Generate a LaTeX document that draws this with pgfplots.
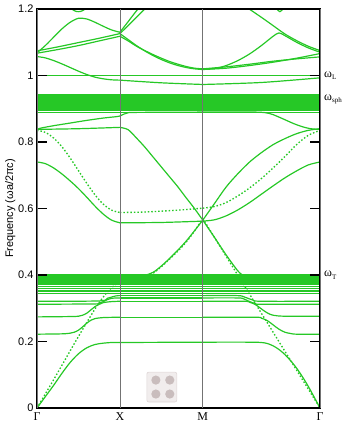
\documentclass[border=0pt]{standalone}
\usepackage{fontspec}
\setmainfont{Liberation Sans}
\newfontfamily\timesfont{Liberation Serif}
\usepackage{pgfplots}
\pgfplotsset{compat=1.18}
\usetikzlibrary{calc}

\definecolor{band}{RGB}{38,200,38}
\definecolor{cellbg}{RGB}{241,237,237}
\definecolor{cellline}{RGB}{222,214,214}
\definecolor{cellrod}{RGB}{201,189,189}
\definecolor{symline}{RGB}{115,115,115}

\pgfplotsset{
  band/.style={color=band, line width=1.2pt, smooth, tension=0.5, mark=none},
  light/.style={band, line width=1.35pt, dash pattern=on 1.5pt off 2pt},
  flat/.style={color=band, line width=1.2pt, mark=none},
}
% one piece of a dispersion branch between two symmetry points
\newcommand{\seg}[2][]{\addplot[band,#1] coordinates {#2};}

\begin{document}
\begin{tikzpicture}
\begin{axis}[
  name=ax, scale only axis, width=283bp, height=399bp,
  xmin=0, xmax=3.41421, ymin=0, ymax=1.2,
  axis on top,
  axis line style={black, line width=1.5pt},
  xtick=\empty,
  extra x ticks={0,1,2,3.41421},
  extra x tick labels={Γ,X,M,Γ},
  extra x tick style={major tick length=0pt, grid=major,
    major grid style={symline, line width=0.6pt},
    xticklabel style={font=\timesfont\fontsize{12}{12}\selectfont, yshift=-1bp}},
  ytick={0,0.2,0.4,0.6,0.8,1,1.2},
  ytick pos=both, yticklabel pos=left,
  tick align=inside, major tick length=10bp,
  tick style={black, line width=1.6pt},
  yticklabel style={font=\fontsize{11}{11}\selectfont},
  /pgf/number format/assume math mode=true,
  ylabel={Frequency (ωa/2πc)},
  ylabel style={font=\fontsize{11}{11}\selectfont, yshift=-4bp},
]

% ---- lowest branch
\seg{(0,0) (0.1,0.034) (0.2,0.068) (0.3,0.104) (0.4,0.137) (0.5,0.163) (0.6,0.181) (0.7,0.191) (0.8,0.195) (0.9,0.197) (1,0.197)}
\seg{(1,0.197) (2,0.198)}
\seg{(2,0.198) (2.5657,0.198) (2.7071,0.197) (2.7778,0.194) (2.8485,0.187) (2.9192,0.176) (2.9899,0.161) (3.0607,0.142) (3.1314,0.12) (3.2021,0.094) (3.2728,0.065) (3.3435,0.033) (3.4142,0)}

% ---- light-like branches (other polarisation)
\seg[light]{(0,0) (0.1,0.042) (0.2,0.085) (0.3,0.128) (0.4,0.172) (0.5,0.215) (0.6,0.257) (0.7,0.298) (0.8,0.334) (0.9,0.362) (1,0.38)}
\seg[light]{(1,0.38) (1.1,0.382) (1.2,0.386) (1.3,0.392) (1.4,0.405) (1.5,0.425) (1.6,0.448) (1.7,0.472) (1.8,0.499) (1.9,0.532) (2,0.57)}
\seg[light]{(2,0.57) (2.7071,0.285) (3.4142,0)}
\seg[light]{(0,0.835) (0.1,0.829) (0.2,0.812) (0.3,0.786) (0.4,0.752) (0.5,0.714) (0.6,0.676) (0.7,0.641) (0.8,0.613) (0.9,0.595) (1,0.588)}
\seg[light]{(1,0.588) (1.25,0.589) (1.5,0.592) (1.75,0.596) (2,0.601)}
\seg[light]{(2,0.601) (2.1414,0.606) (2.2828,0.618) (2.4243,0.638) (2.5657,0.662) (2.7071,0.69) (2.8485,0.722) (2.9899,0.756) (3.1314,0.792) (3.2728,0.82) (3.4142,0.835)}

% ---- branches between the two flat bands
\seg{(0,0.74) (0.1,0.735) (0.2,0.722) (0.3,0.704) (0.4,0.683) (0.5,0.66) (0.6,0.634) (0.7,0.607) (0.8,0.583) (0.9,0.565) (1,0.557)}
\seg{(1,0.557) (1.5,0.558) (2,0.562)}
\seg{(2,0.562) (2.1414,0.566) (2.2828,0.578) (2.4243,0.596) (2.5657,0.618) (2.7071,0.643) (2.8485,0.668) (2.9899,0.692) (3.1314,0.713) (3.2728,0.731) (3.4142,0.74)}

\seg{(0,0.838) (0.5,0.84) (1,0.844)}
\seg{(1,0.844) (1.1,0.837) (1.2,0.812) (1.3,0.785) (1.4,0.755) (1.5,0.725) (1.6,0.695) (1.7,0.665) (1.8,0.632) (1.9,0.6) (2,0.565)}
\seg{(2,0.565) (2.1414,0.615) (2.2828,0.665) (2.4243,0.705) (2.5657,0.74) (2.7071,0.768) (2.8485,0.792) (2.9899,0.81) (3.1314,0.825) (3.2728,0.835) (3.4142,0.84)}

\seg{(1,0.397) (1.2,0.397) (1.3,0.399) (1.4,0.408) (1.5,0.427) (1.6,0.45) (1.7,0.475) (1.8,0.502) (1.9,0.533) (2,0.565)}
\seg{(2,0.565) (2.1414,0.513) (2.2828,0.46) (2.4243,0.412) (2.495,0.398) (2.5657,0.394) (2.7071,0.393) (3.4142,0.393)}

\seg{(0,0.838) (0.05,0.842) (0.2,0.849) (0.4,0.857) (0.6,0.865) (0.8,0.872) (0.95,0.876) (1,0.878)}
\seg{(1,0.878) (1.05,0.884) (1.1,0.888) (1.2,0.889) (2,0.89)}
\seg{(2,0.89) (2.6364,0.89) (2.8,0.886) (2.89,0.878) (3.0,0.866) (3.1,0.855) (3.2,0.846) (3.3,0.84) (3.4142,0.838)}

% ---- branches anticrossing below omega_T
\seg{(0,0.222) (0.3,0.223) (0.4,0.225) (0.45,0.228) (0.5,0.234) (0.55,0.244) (0.6,0.255) (0.65,0.264) (0.7,0.269) (0.8,0.272) (1,0.273)}
\seg{(1,0.273) (2,0.273)}
\seg{(2,0.273) (2.6364,0.273) (2.7071,0.27) (2.7778,0.263) (2.8485,0.25) (2.9192,0.237) (2.9899,0.228) (3.0607,0.224) (3.1314,0.222) (3.4142,0.222)}

\seg{(0,0.274) (0.4,0.275) (0.5,0.276) (0.55,0.279) (0.6,0.285) (0.65,0.295) (0.7,0.305) (0.75,0.312) (0.8,0.317) (0.9,0.32) (1,0.321)}
\seg{(1,0.321) (2,0.321)}
\seg{(2,0.321) (2.495,0.321) (2.5657,0.318) (2.6364,0.311) (2.7071,0.298) (2.7778,0.286) (2.8485,0.279) (2.9899,0.276) (3.4142,0.276)}

\seg{(0,0.312) (0.7,0.313) (0.75,0.315) (0.8,0.32) (0.85,0.326) (0.9,0.33) (1,0.331)}
\seg{(1,0.331) (2,0.331)}
\seg{(2,0.331) (2.4243,0.331) (2.495,0.328) (2.5657,0.32) (2.6364,0.314) (2.7071,0.312) (3.4142,0.312)}

\seg{(0,0.321) (0.75,0.322) (0.85,0.33) (0.95,0.337) (1,0.338)}
\seg{(1,0.338) (2,0.338)}
\seg{(2,0.338) (2.42,0.338) (2.5,0.334) (2.6,0.325) (2.7,0.321) (3.4142,0.321)}

% ---- flat bands near omega_T and omega_sph, and omega_L
\pgfplotsinvokeforeach{0.345,0.352,0.359,0.365,0.371,0.376,0.379,0.382,0.385,0.388,0.391,0.394,0.397,0.400}{
  \addplot[flat] coordinates {(0,#1) (3.41421,#1)};
}
\pgfplotsinvokeforeach{0.889,0.896,0.902,0.906,0.909,0.912,0.915,0.918,0.921,0.924,0.928,0.931,0.934,0.937,0.940,0.943}{
  \addplot[flat] coordinates {(0,#1) (3.41421,#1)};
}
\addplot[flat] coordinates {(0,1.0) (3.41421,1.0)};

% ---- upper branches
\seg{(0,1.057) (0.1,1.053) (0.2,1.045) (0.3,1.035) (0.4,1.024) (0.5,1.013) (0.6,1.003) (0.7,0.995) (0.8,0.99) (0.9,0.987) (1,0.986)}
\seg{(1,0.986) (1.5,0.978) (2,0.973)}
\seg{(2,0.973) (2.7071,0.979) (3.4142,0.993)}

\seg{(0,1.074) (0.25,1.086) (0.5,1.099) (0.75,1.112) (1,1.126)}
\seg{(1,1.126) (1.1,1.108) (1.2,1.09) (1.3,1.074) (1.4,1.06) (1.5,1.048) (1.6,1.038) (1.7,1.03) (1.8,1.024) (1.9,1.02) (2,1.018)}
\seg{(2,1.018) (2.2828,1.022) (2.5657,1.03) (2.8485,1.04) (3.1314,1.052) (3.4142,1.066)}

\seg{(0,1.067) (0.25,1.078) (0.5,1.09) (0.75,1.104) (1,1.118)}
\seg{(1,1.118) (1.1,1.104) (1.2,1.088) (1.3,1.075) (1.4,1.063) (1.5,1.052) (1.6,1.042) (1.7,1.034) (1.8,1.027) (1.9,1.022) (2,1.02)}
\seg{(2,1.02) (2.2828,1.026) (2.5657,1.034) (2.8485,1.043) (3.1314,1.05) (3.4142,1.056)}

\seg{(0,1.068) (0.1,1.09) (0.2,1.115) (0.3,1.14) (0.4,1.16) (0.5,1.172) (0.6,1.17) (0.7,1.16) (0.8,1.148) (0.9,1.137) (1,1.13)}
\seg{(1,1.126) (1.1,1.15) (1.2,1.175) (1.3,1.2) (1.35,1.215)}
\seg{(1,1.13) (1.1,1.162) (1.17,1.185) (1.25,1.21)}
\seg{(0.33,1.215) (0.45,1.195) (0.5,1.192) (0.55,1.195) (0.67,1.215)}

\seg{(2,1.02) (2.1414,1.021) (2.2828,1.03) (2.4243,1.045) (2.5657,1.065) (2.7071,1.09) (2.8485,1.118) (2.9192,1.128) (2.9899,1.12) (3.1314,1.1) (3.2728,1.083) (3.4142,1.07)}
\seg{(2.5,1.21) (2.7071,1.175) (2.8485,1.15) (2.9899,1.125) (3.1314,1.105) (3.2728,1.088) (3.4142,1.075)}
\seg{(2.85,1.215) (2.93,1.192) (3.01,1.215)}

% ---- unit cell sketch
\draw[draw=cellline, fill=cellbg, line width=0.6pt, rounded corners=2bp]
  (axis cs:1.325,0.018) rectangle (axis cs:1.687,0.108);
\fill[cellrod] (axis cs:1.434,0.084) circle[radius=4.6bp];
\fill[cellrod] (axis cs:1.602,0.084) circle[radius=4.6bp];
\fill[cellrod] (axis cs:1.434,0.042) circle[radius=4.6bp];
\fill[cellrod] (axis cs:1.602,0.042) circle[radius=4.6bp];

\coordinate (wL) at (axis cs:3.41421,1.0);
\coordinate (wS) at (axis cs:3.41421,0.928);
\coordinate (wT) at (axis cs:3.41421,0.40);
\end{axis}

\node[anchor=west, inner sep=0pt, xshift=4bp] at (wL)
  {\timesfont\fontsize{12}{12}\selectfont ω\raisebox{-2.5bp}{\fontsize{7}{7}\selectfont L}};
\node[anchor=west, inner sep=0pt, xshift=4bp] at (wS)
  {\timesfont\fontsize{12}{12}\selectfont ω\raisebox{-2.5bp}{\fontsize{7}{7}\selectfont sph}};
\node[anchor=west, inner sep=0pt, xshift=4bp] at (wT)
  {\timesfont\fontsize{12}{12}\selectfont ω\raisebox{-2.5bp}{\fontsize{7}{7}\selectfont T}};

\pgfresetboundingbox
\path[use as bounding box] ($(ax.south west)+(-37bp,-22bp)$) rectangle ($(ax.north east)+(25bp,9bp)$);
\end{tikzpicture}
\end{document}
